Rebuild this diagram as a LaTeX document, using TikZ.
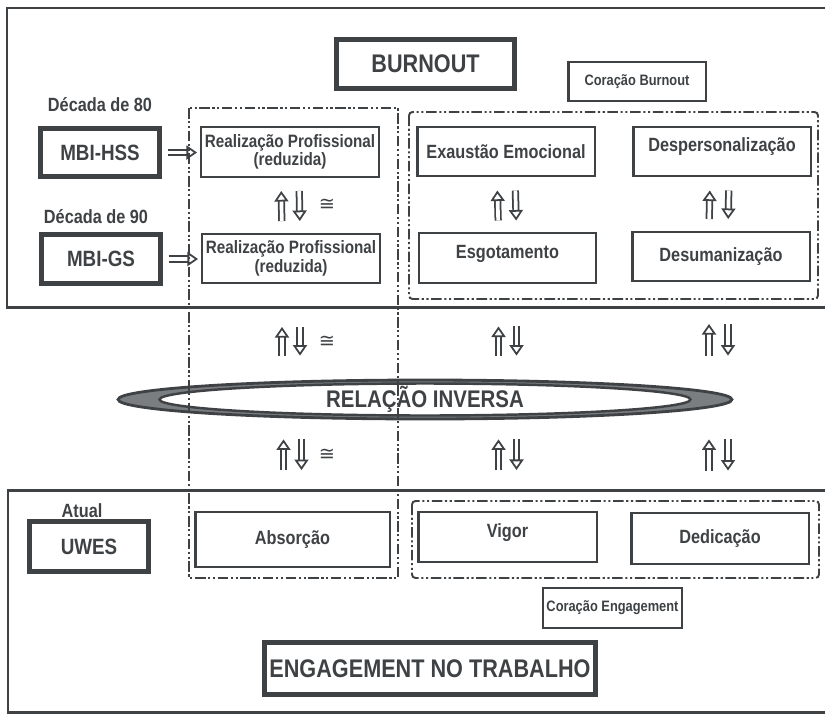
\documentclass[tikz,border=0pt]{standalone}
\usepackage{fontspec}
\setmainfont[FakeStretch=0.85]{Liberation Sans}
\newfontfamily\symfont{DejaVu Sans}
\usepackage{tikz}
\usetikzlibrary{positioning,arrows.meta,shapes.geometric}

\definecolor{ink}{RGB}{62,66,68}
\definecolor{ring}{RGB}{122,126,128}

\begin{document}
\begin{tikzpicture}[
        x=0.02cm, y=-0.02cm,
        every node/.style={text=ink},
        frame/.style={draw=ink, line width=1.7pt},
        grp/.style={draw=ink, line width=1.1pt, dash pattern=on 6pt off 1.5pt on 1.2pt off 1.5pt on 1.2pt off 1.5pt},
        box/.style={rectangle, draw=ink, line width=1.4pt, minimum width=3.55cm, minimum height=0.99cm, inner sep=1pt, align=center, font=\bfseries\fontsize{10.9}{12}\selectfont},
        thickbox/.style={box, line width=2.6pt, minimum width=2.38cm, minimum height=0.97cm, font=\bfseries\fontsize{12.6}{14}\selectfont},
        title/.style={thickbox, font=\bfseries\fontsize{14.5}{16}\selectfont},
        core/.style={box, minimum width=2.75cm, minimum height=0.78cm, font=\bfseries\fontsize{8.6}{10}\selectfont},
        era/.style={inner sep=0pt, font=\bfseries\fontsize{10.9}{12}\selectfont},
        approx/.style={inner sep=0pt, font=\symfont\fontsize{11}{11}\selectfont},
        barrow/.style={draw=ink, line width=1pt, double=white, double distance=2.1pt, -{Triangle[open, width=8pt, length=6pt, line width=1pt]}}
      ]
      \useasboundingbox (0,0) rectangle (825,714);

      % Frames
      \draw[frame] (7,8) rectangle (840,307);
      \draw[frame] (8,490) rectangle (840,712);

      % Relation
      \node[ellipse, draw=ink, line width=1.6pt, fill=ring, minimum width=12.28cm, minimum height=0.78cm] (rel) at (425,399.5) {};
      \node[ellipse, draw=ink, line width=1.4pt, fill=white, minimum width=10.62cm, minimum height=0.64cm] (relin) at (rel.center) {};
      \node[inner sep=0pt, font=\bfseries\fontsize{13.7}{15}\selectfont] (reltxt) at (rel.center) {RELAÇÃO INVERSA};

      % Groups
      \draw[grp] (189,108) rectangle (398,578);
      \draw[grp, rounded corners=2pt] (409,112) rectangle (818,299);
      \draw[grp, rounded corners=2pt] (412,501) rectangle (819,578);

      % Burnout
      \node[title, minimum width=3.56cm, minimum height=0.98cm] (burnout) at (425.5,64) {BURNOUT};
      \node[core] (cburn) at (637,81.5) {Coração Burnout};

      \node[era] (dec80) at (100,105) {Década de 80};
      \node[thickbox] (mbihss) at (100,152.5) {MBI-HSS};
      \node[era] (dec90) at (96,217) {Década de 90};
      \node[thickbox, minimum height=0.98cm] (mbigs) at (101,259) {MBI-GS};

      \node[box, font=\bfseries\fontsize{10.2}{10.5}\selectfont] (real1) at (290,152) {Realização Profissional\\(reduzida)};
      \node[box, font=\bfseries\fontsize{10.2}{10.5}\selectfont] (real2) at (291,258.5) {Realização Profissional\\(reduzida)};
      \node[box] (exaust) at (506,151.5) {Exaustão Emocional};
      \node[box, text depth=7.5pt] (despers) at (722,151.5) {Despersonalização};
      \node[box, text depth=7.5pt] (esgot) at (507.5,258) {Esgotamento};
      \node[box] (desuman) at (721,256.5) {Desumanização};

      % Engagement
      \node[era] (atual) at (82,511) {Atual};
      \node[thickbox, minimum height=1cm] (uwes) at (89,546.5) {UWES};
      \node[box, minimum width=3.89cm, minimum height=1.09cm] (absor) at (292.5,539.5) {Absorção};
      \node[box, minimum width=3.57cm, text depth=7.5pt] (vigor) at (507.5,537) {Vigor};
      \node[box, minimum height=1.01cm] (dedic) at (720,538.5) {Dedicação};
      \node[core, minimum width=2.77cm, minimum height=0.79cm] (ceng) at (612.5,608) {Coração Engagement};
      \node[title, minimum width=6.62cm, minimum height=1.04cm] (engage) at (430,668.5) {ENGAGEMENT NO TRABALHO};

      % Instruments
      \draw[barrow, shorten <=0.12cm, shorten >=0.06cm] (mbihss.east) -- (mbihss.east -| real1.west);
      \draw[barrow, shorten <=0.12cm, shorten >=0.06cm] (mbigs.east) -- (mbigs.east -| real2.west);

      % Burnout pairs
      \draw[barrow, shorten <=0.23cm, shorten >=0.26cm] ([xshift=-0.18cm]real2.north) -- ([xshift=-0.18cm]real1.south);
      \draw[barrow, shorten <=0.26cm, shorten >=0.23cm] ([xshift=0.18cm]real1.south) -- ([xshift=0.18cm]real2.north);
      \draw[barrow, shorten <=0.23cm, shorten >=0.26cm] ([xshift=-0.18cm]esgot.north) -- ([xshift=-0.18cm]exaust.south);
      \draw[barrow, shorten <=0.26cm, shorten >=0.23cm] ([xshift=0.18cm]exaust.south) -- ([xshift=0.18cm]esgot.north);
      \draw[barrow, shorten <=0.23cm, shorten >=0.26cm] ([xshift=-0.24cm]desuman.north) -- ([xshift=-0.24cm]despers.south);
      \draw[barrow, shorten <=0.26cm, shorten >=0.23cm] ([xshift=0.14cm]despers.south) -- ([xshift=0.14cm]desuman.north);

      % Pairs above the relation
      \draw[barrow, shorten <=0.46cm, shorten >=0.85cm] ([xshift=-0.18cm]rel.north -| real2) -- ([xshift=-0.18cm]real2.south);
      \draw[barrow, shorten <=0.85cm, shorten >=0.46cm] ([xshift=0.18cm]real2.south) -- ([xshift=0.18cm]rel.north -| real2);
      \draw[barrow, shorten <=0.46cm, shorten >=0.85cm] ([xshift=-0.18cm]rel.north -| esgot) -- ([xshift=-0.18cm]esgot.south);
      \draw[barrow, shorten <=0.85cm, shorten >=0.46cm] ([xshift=0.18cm]esgot.south) -- ([xshift=0.18cm]rel.north -| esgot);
      \draw[barrow, shorten <=0.46cm, shorten >=0.83cm] ([xshift=-0.24cm]rel.north -| desuman) -- ([xshift=-0.24cm]desuman.south);
      \draw[barrow, shorten <=0.83cm, shorten >=0.46cm] ([xshift=0.14cm]desuman.south) -- ([xshift=0.14cm]rel.north -| desuman);

      % Pairs below the relation
      \draw[barrow, shorten <=0.82cm, shorten >=0.38cm] ([xshift=-0.18cm]absor.north) -- ([xshift=-0.18cm]rel.south -| absor);
      \draw[barrow, shorten <=0.38cm, shorten >=0.82cm] ([xshift=0.18cm]rel.south -| absor) -- ([xshift=0.18cm]absor.north);
      \draw[barrow, shorten <=0.82cm, shorten >=0.38cm] ([xshift=-0.18cm]vigor.north) -- ([xshift=-0.18cm]rel.south -| vigor);
      \draw[barrow, shorten <=0.38cm, shorten >=0.82cm] ([xshift=0.18cm]rel.south -| vigor) -- ([xshift=0.18cm]vigor.north);
      \draw[barrow, shorten <=0.83cm, shorten >=0.38cm] ([xshift=-0.22cm]dedic.north) -- ([xshift=-0.22cm]rel.south -| dedic);
      \draw[barrow, shorten <=0.38cm, shorten >=0.83cm] ([xshift=0.16cm]rel.south -| dedic) -- ([xshift=0.16cm]dedic.north);

      % Similarity marks
      \node[approx] (cong1) at (327,205) {≅};
      \node[approx] (cong2) at (327,342) {≅};
      \node[approx] (cong3) at (327,455) {≅};

    \end{tikzpicture}
\end{document}
